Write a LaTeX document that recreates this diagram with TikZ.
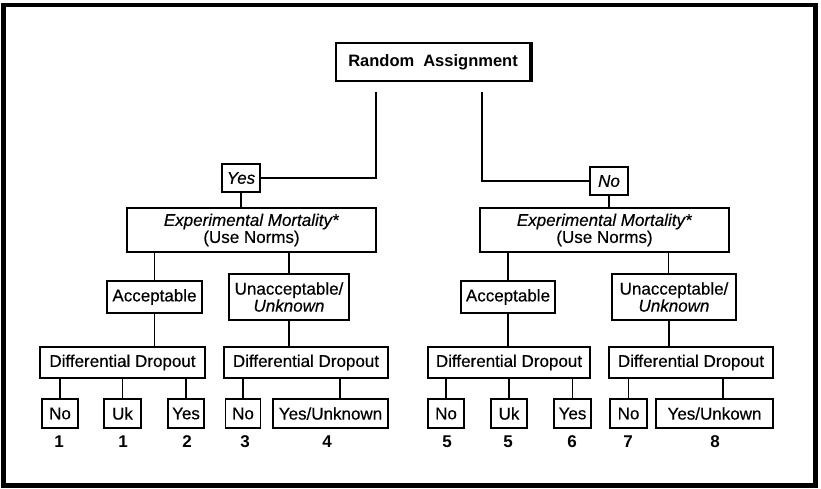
\documentclass[tikz,border=0pt]{standalone}
\usepackage{fontspec}
\setmainfont{Liberation Sans}
\newfontfamily\labelfont[FakeBold=0.35]{Liberation Sans}
\begin{document}
\begin{tikzpicture}[x=1pt,y=-1pt,
  box/.style={draw,line width=1.1pt,inner sep=0pt,align=center,
    font=\labelfont\fontsize{17}{17}\selectfont},
  leaf/.style={box,minimum height=29pt},
  num/.style={inner sep=0pt,font=\fontsize{17}{17}\selectfont\bfseries},
  link/.style={line width=1.1pt}]
\useasboundingbox (0,0) rectangle (821,488);
% outer frame
\draw[line width=4.5pt] (3.5,5) rectangle (815.5,485.5);

% root
\node[draw,line width=2.5pt,minimum width=194pt,minimum height=38pt,inner sep=0pt,
  font=\fontsize{16.5}{19}\selectfont\bfseries] (ra) at (433,62) {Random\hspace{0.55em}Assignment};
\draw[line width=4pt] (ra.north east) -- (ra.south east);
\coordinate (ra-l) at (376,92);
\coordinate (ra-r) at (482,92);

% first split
\node[box,minimum width=38pt,minimum height=28pt,font=\labelfont\fontsize{17}{17}\selectfont\itshape] (yes) at (241,178) {Yes};
\node[box,minimum width=38pt,minimum height=28pt,font=\labelfont\fontsize{17}{17}\selectfont\itshape] (no) at (609,181) {No};
\draw[link] (ra-l) |- (yes.east);
\draw[link] (ra-r) |- (no.west);

% experimental mortality
\node[box,minimum width=249pt,minimum height=44pt] (exp1) at (251.5,230) {\textit{Experimental Mortality*}\\(Use Norms)};
\node[box,minimum width=249pt,minimum height=44pt] (exp2) at (604.5,230) {\textit{Experimental Mortality*}\\(Use Norms)};
\draw[link] (yes.south) -- (yes.south |- exp1.north);
\draw[link] (no.south) -- (no.south |- exp2.north);

% acceptability
\node[box,minimum width=95pt,minimum height=32pt] (acc1) at (154.5,297) {Acceptable};
\node[box,minimum width=120pt,minimum height=46pt] (un1) at (289,297) {Unacceptable/\\\textit{Unknown}};
\node[box,minimum width=94pt,minimum height=32pt] (acc2) at (508,297) {Acceptable};
\node[box,minimum width=124pt,minimum height=46pt] (un2) at (674,297) {Unacceptable/\\\textit{Unknown}};
\draw[link] (acc1.north |- exp1.south) -- (acc1.north);
\draw[link] (un1.north |- exp1.south) -- (un1.north);
\draw[link] (acc2.north |- exp2.south) -- (acc2.north);
\draw[link] ([xshift=-5.5pt]un2.north |- exp2.south) -- ([xshift=-5.5pt]un2.north);

% differential dropout
\node[box,minimum width=165pt,minimum height=31pt] (dd1) at (122.5,362.5) {Differential Dropout};
\node[box,minimum width=164pt,minimum height=31pt] (dd2) at (306,362.5) {Differential Dropout};
\node[box,minimum width=162pt,minimum height=31pt] (dd3) at (509,362.5) {Differential Dropout};
\node[box,minimum width=164pt,minimum height=31pt] (dd4) at (691,362.5) {Differential Dropout};
\draw[link] (acc1.south) -- (acc1.south |- dd1.north);
\draw[link] (un1.south) -- (un1.south |- dd2.north);
\draw[link] (acc2.south) -- (acc2.south |- dd3.north);
\draw[link] ([xshift=-5pt]un2.south) -- ([xshift=-5pt]un2.south |- dd4.north);

% outcomes
\node[leaf,minimum width=36pt] (l1) at (60,413.5) {No};
\node[leaf,minimum width=37pt] (l2) at (122.5,413.5) {Uk};
\node[leaf,minimum width=36pt] (l3) at (186,413.5) {Yes};
\node[leaf,minimum width=35pt] (l4) at (243,413.5) {No};
\node[leaf,minimum width=115pt] (l5) at (330.5,413.5) {Yes/Unknown};
\node[leaf,minimum width=36pt] (l6) at (446,413.5) {No};
\node[leaf,minimum width=36pt] (l7) at (509,413.5) {Uk};
\node[leaf,minimum width=37pt] (l8) at (572.5,413.5) {Yes};
\node[leaf,minimum width=37pt] (l9) at (628.5,413.5) {No};
\node[leaf,minimum width=117pt] (l10) at (714.5,413.5) {Yes/Unkown};
\foreach \l in {l1,l2,l3,l4} \draw[link] (\l.north |- dd1.south) -- (\l.north);
\draw[link] ([xshift=9.5pt]l5.north |- dd2.south) -- ([xshift=9.5pt]l5.north);
\foreach \l in {l6,l7,l8,l9} \draw[link] (\l.north |- dd3.south) -- (\l.north);
\draw[link] ([xshift=8.5pt]l10.north |- dd4.south) -- ([xshift=8.5pt]l10.north);

% outcome numbers
\node[num] (n1) at (59,442) {1};
\node[num] (n2) at (123,442) {1};
\node[num] (n3) at (187,442) {2};
\node[num] (n4) at (245,442) {3};
\node[num] (n5) at (327,442) {4};
\node[num] (n6) at (447,442) {5};
\node[num] (n7) at (508,442) {5};
\node[num] (n8) at (572,442) {6};
\node[num] (n9) at (628,442) {7};
\node[num] (n10) at (715,442) {8};
\end{tikzpicture}
\end{document}
